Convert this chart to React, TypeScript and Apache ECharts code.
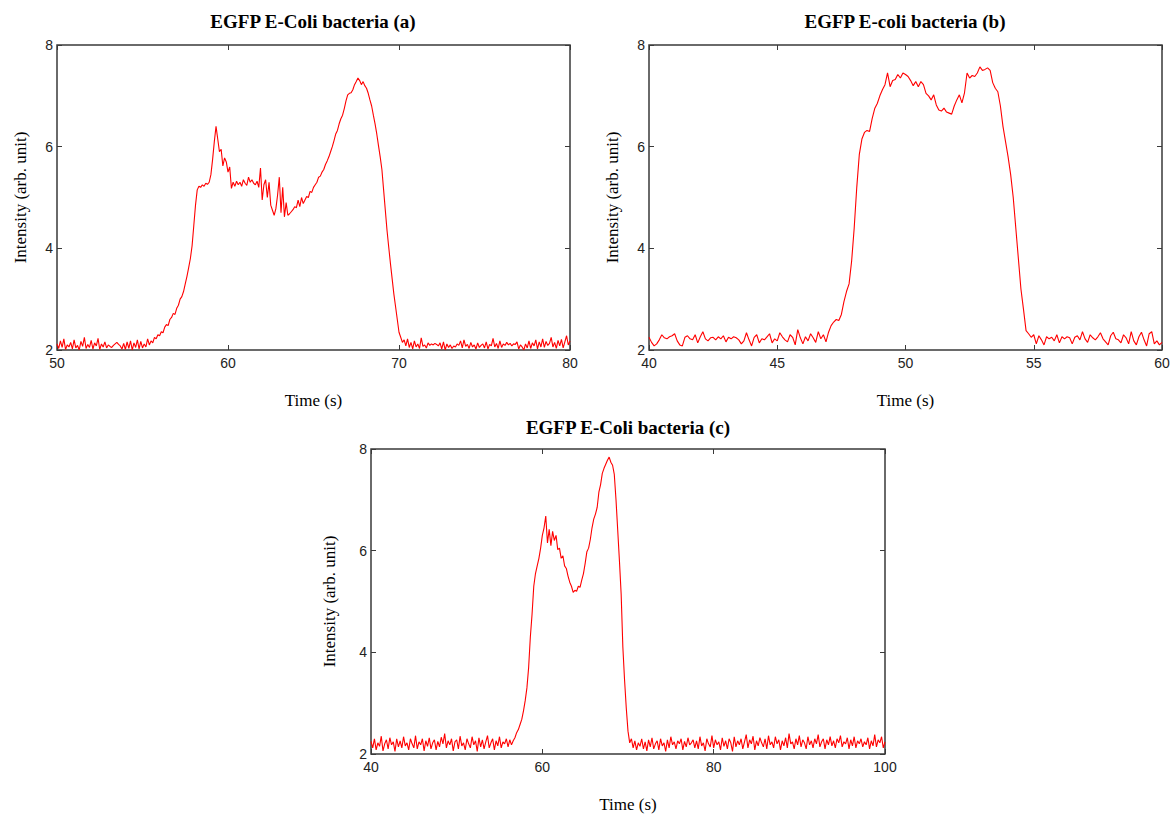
import React, { useEffect, useRef } from "react";
import * as echarts from "echarts";

// ---------- Chart (a): EGFP E-Coli bacteria (a), t = 50..80 s, step 0.1 s ----------
const titleA = "EGFP E-Coli bacteria (a)";
const startA = 50;
const stepA = 0.1;
const valuesA = [
  /* 50 */ 2.12, 2.03, 2.18, 2.05, 2.22, 2.01, 2.10, 2.06, 2.15, 2.02,
  /* 51 */ 2.20, 2.04, 2.09, 2.00, 2.17, 2.07, 2.25, 2.03, 2.11, 2.05,
  /* 52 */ 2.19, 2.02, 2.14, 2.08, 2.23, 2.01, 2.12, 2.06, 2.16, 2.04,
  /* 53 */ 2.10, 2.07, 2.05, 2.09, 2.12, 2.15, 2.11, 2.08, 2.02, 2.13,
  /* 54 */ 2.01, 2.16, 2.03, 2.18, 2.00, 2.14, 2.05, 2.20, 2.02, 2.17,
  /* 55 */ 2.04, 2.12, 2.06, 2.22, 2.10, 2.18, 2.14, 2.25, 2.22, 2.30,
  /* 56 */ 2.28, 2.36, 2.34, 2.45, 2.50, 2.48, 2.60, 2.64, 2.72, 2.70,
  /* 57 */ 2.82, 2.88, 3.00, 3.05, 3.15, 3.30, 3.45, 3.62, 3.80, 4.05,
  /* 58 */ 4.45, 4.85, 5.15, 5.22, 5.20, 5.25, 5.22, 5.28, 5.26, 5.30,
  /* 59 */ 5.45, 5.75, 6.10, 6.40, 6.15, 5.90, 5.95, 5.62, 5.78, 5.70,
  /* 60 */ 5.50, 5.60, 5.18, 5.30, 5.22, 5.32, 5.25, 5.30, 5.22, 5.35,
  /* 61 */ 5.28, 5.24, 5.40, 5.30, 5.35, 5.28, 5.25, 5.32, 5.20, 5.58,
  /* 62 */ 4.95, 5.25, 5.35, 5.00, 5.30, 4.85, 4.75, 4.65, 4.78, 5.05,
  /* 63 */ 5.40, 4.70, 5.20, 4.62, 4.90, 4.65, 4.68, 4.72, 4.76, 4.82,
  /* 64 */ 4.80, 4.95, 4.82, 5.00, 4.88, 4.95, 5.02, 5.00, 5.12, 5.10,
  /* 65 */ 5.20, 5.25, 5.30, 5.40, 5.42, 5.50, 5.55, 5.65, 5.72, 5.80,
  /* 66 */ 5.90, 6.00, 6.12, 6.25, 6.32, 6.45, 6.55, 6.62, 6.75, 6.90,
  /* 67 */ 7.02, 7.05, 7.06, 7.12, 7.22, 7.28, 7.35, 7.30, 7.22, 7.28,
  /* 68 */ 7.20, 7.15, 7.05, 6.92, 6.80, 6.62, 6.45, 6.25, 6.02, 5.80,
  /* 69 */ 5.55, 5.15, 4.75, 4.35, 4.02, 3.70, 3.40, 3.10, 2.85, 2.60,
  /* 70 */ 2.35, 2.25, 2.15, 2.20, 2.08, 2.22, 2.05, 2.15, 2.02, 2.18,
  /* 71 */ 2.06, 2.12, 2.03, 2.24, 2.07, 2.10, 2.04, 2.14, 2.09, 2.12,
  /* 72 */ 2.10, 2.13, 2.11, 2.08, 2.14, 2.02, 2.16, 2.00, 2.12, 2.05,
  /* 73 */ 2.10, 2.03, 2.08, 2.06, 2.12, 2.09, 2.18, 2.04, 2.20, 2.07,
  /* 74 */ 2.11, 2.03, 2.15, 2.06, 2.10, 2.02, 2.14, 2.05, 2.09, 2.12,
  /* 75 */ 2.04, 2.16, 2.02, 2.11, 2.08, 2.23, 2.06, 2.13, 2.03, 2.18,
  /* 76 */ 2.05, 2.12, 2.09, 2.15, 2.10, 2.13, 2.08, 2.12, 2.11, 2.16,
  /* 77 */ 2.02, 2.10, 2.06, 2.00, 2.12, 2.04, 2.18, 2.03, 2.14, 2.08,
  /* 78 */ 2.20, 2.02, 2.16, 2.06, 2.22, 2.05, 2.17, 2.09, 2.13, 2.25,
  /* 79 */ 2.06, 2.15, 2.03, 2.19, 2.08, 2.21, 2.04, 2.16, 2.28, 2.10,
  /* 80 */ 2.18,
];
const xRangeA = [50, 80, 10];

// ---------- Chart (b): EGFP E-coli bacteria (b), t = 40..60 s, step 0.1 s ----------
const titleB = "EGFP E-coli bacteria (b)";
const startB = 40;
const stepB = 0.1;
const valuesB = [
  /* 40 */ 2.25, 2.15, 2.08, 2.12, 2.20, 2.30, 2.24, 2.22, 2.26, 2.28,
  /* 41 */ 2.32, 2.18, 2.10, 2.08, 2.25, 2.28, 2.22, 2.20, 2.30, 2.14,
  /* 42 */ 2.26, 2.36, 2.22, 2.18, 2.24, 2.25, 2.20, 2.26, 2.22, 2.28,
  /* 43 */ 2.16, 2.25, 2.22, 2.26, 2.24, 2.20, 2.12, 2.18, 2.34, 2.20,
  /* 44 */ 2.08, 2.25, 2.30, 2.14, 2.22, 2.20, 2.26, 2.32, 2.14, 2.22,
  /* 45 */ 2.18, 2.34, 2.26, 2.20, 2.16, 2.30, 2.25, 2.10, 2.40, 2.24,
  /* 46 */ 2.12, 2.26, 2.18, 2.32, 2.24, 2.15, 2.36, 2.22, 2.30, 2.16,
  /* 47 */ 2.35, 2.48, 2.55, 2.60, 2.58, 2.70, 2.95, 3.15, 3.30, 3.75,
  /* 48 */ 4.40, 5.20, 5.85, 6.15, 6.28, 6.32, 6.30, 6.55, 6.75, 6.85,
  /* 49 */ 7.00, 7.12, 7.22, 7.45, 7.18, 7.30, 7.32, 7.42, 7.35, 7.45,
  /* 50 */ 7.42, 7.38, 7.30, 7.20, 7.28, 7.18, 7.28, 7.22, 7.05, 7.00,
  /* 51 */ 6.92, 7.02, 6.82, 6.72, 6.70, 6.76, 6.68, 6.66, 6.64, 6.80,
  /* 52 */ 6.92, 7.02, 6.86, 7.06, 7.45, 7.35, 7.40, 7.38, 7.45, 7.57,
  /* 53 */ 7.50, 7.52, 7.55, 7.50, 7.26, 7.15, 7.08, 6.80, 6.40, 6.10,
  /* 54 */ 5.80, 5.45, 5.00, 4.40, 3.80, 3.20, 2.80, 2.38, 2.32, 2.25,
  /* 55 */ 2.30, 2.12, 2.28, 2.20, 2.10, 2.26, 2.22, 2.25, 2.18, 2.30,
  /* 56 */ 2.14, 2.26, 2.22, 2.26, 2.24, 2.12, 2.25, 2.28, 2.20, 2.36,
  /* 57 */ 2.22, 2.15, 2.30, 2.24, 2.20, 2.26, 2.34, 2.22, 2.16, 2.10,
  /* 58 */ 2.28, 2.35, 2.22, 2.20, 2.14, 2.30, 2.24, 2.12, 2.36, 2.18,
  /* 59 */ 2.10, 2.26, 2.35, 2.20, 2.08, 2.32, 2.36, 2.12, 2.18, 2.10,
  /* 60 */ 2.15,
];
const xRangeB = [40, 60, 5];

// ---------- Chart (c): EGFP E-Coli bacteria (c), t = 40..100 s, step 0.2 s ----------
const titleC = "EGFP E-Coli bacteria (c)";
const startC = 40;
const stepC = 0.2;
const valuesC = [
  /* 40 */ 2.25, 2.12, 2.30, 2.08, 2.22, 2.15, 2.35, 2.06, 2.20, 2.28,
  /* 42 */ 2.10, 2.32, 2.18, 2.24, 2.05, 2.30, 2.14, 2.26, 2.12, 2.34,
  /* 44 */ 2.16, 2.22, 2.08, 2.30, 2.20, 2.12, 2.36, 2.10, 2.24, 2.18,
  /* 46 */ 2.30, 2.06, 2.26, 2.15, 2.32, 2.10, 2.22, 2.28, 2.08, 2.25,
  /* 48 */ 2.14, 2.33, 2.20, 2.40, 2.12, 2.26, 2.18, 2.30, 2.06, 2.24,
  /* 50 */ 2.28, 2.10, 2.35, 2.16, 2.22, 2.08, 2.30, 2.20, 2.12, 2.34,
  /* 52 */ 2.18, 2.26, 2.05, 2.32, 2.14, 2.28, 2.10, 2.24, 2.36, 2.12,
  /* 54 */ 2.22, 2.30, 2.08, 2.26, 2.16, 2.34, 2.12, 2.24, 2.20, 2.30,
  /* 56 */ 2.14, 2.28, 2.18, 2.26, 2.32, 2.42, 2.48, 2.58, 2.68, 2.85,
  /* 58 */ 3.05, 3.30, 3.70, 4.30, 4.75, 5.30, 5.55, 5.70, 5.85, 6.05,
  /* 60 */ 6.30, 6.45, 6.68, 6.15, 6.42, 6.10, 6.38, 6.20, 6.30, 6.02,
  /* 62 */ 6.05, 5.85, 5.90, 5.70, 5.65, 5.50, 5.38, 5.30, 5.18, 5.22,
  /* 64 */ 5.20, 5.30, 5.28, 5.42, 5.55, 5.75, 5.98, 6.05, 6.22, 6.45,
  /* 66 */ 6.62, 6.72, 6.85, 7.15, 7.30, 7.52, 7.62, 7.70, 7.78, 7.84,
  /* 68 */ 7.74, 7.68, 7.50, 7.00, 6.40, 5.80, 5.15, 4.10, 3.45, 2.90,
  /* 70 */ 2.45, 2.22, 2.30, 2.12, 2.26, 2.08, 2.22, 2.15, 2.30, 2.10,
  /* 72 */ 2.24, 2.06, 2.28, 2.14, 2.32, 2.10, 2.20, 2.26, 2.08, 2.30,
  /* 74 */ 2.16, 2.22, 2.05, 2.28, 2.12, 2.34, 2.18, 2.24, 2.10, 2.26,
  /* 76 */ 2.20, 2.30, 2.08, 2.25, 2.14, 2.32, 2.18, 2.22, 2.28, 2.12,
  /* 78 */ 2.26, 2.10, 2.34, 2.16, 2.22, 2.06, 2.30, 2.20, 2.14, 2.36,
  /* 80 */ 2.12, 2.28, 2.18, 2.24, 2.08, 2.32, 2.15, 2.26, 2.10, 2.30,
  /* 82 */ 2.22, 2.05, 2.34, 2.14, 2.26, 2.18, 2.30, 2.10, 2.24, 2.38,
  /* 84 */ 2.12, 2.28, 2.20, 2.35, 2.08, 2.26, 2.16, 2.32, 2.22, 2.14,
  /* 86 */ 2.30, 2.10, 2.36, 2.18, 2.24, 2.12, 2.34, 2.20, 2.28, 2.08,
  /* 88 */ 2.26, 2.16, 2.32, 2.12, 2.40, 2.20, 2.24, 2.10, 2.30, 2.18,
  /* 90 */ 2.36, 2.14, 2.28, 2.22, 2.10, 2.34, 2.18, 2.26, 2.12, 2.30,
  /* 92 */ 2.20, 2.38, 2.14, 2.24, 2.30, 2.10, 2.28, 2.18, 2.34, 2.16,
  /* 94 */ 2.26, 2.12, 2.30, 2.22, 2.36, 2.14, 2.24, 2.20, 2.32, 2.10,
  /* 96 */ 2.28, 2.16, 2.34, 2.12, 2.26, 2.20, 2.30, 2.14, 2.24, 2.18,
  /* 98 */ 2.32, 2.10, 2.26, 2.16, 2.38, 2.14, 2.28, 2.22, 2.34, 2.12,
  /* 100 */ 2.24,
];
const xRangeC = [40, 100, 20];

const yRange = [2, 8, 2];
const xName = "Time (s)";
const yName = "Intensity (arb. unit)";

function toPairs(start: number, step: number, vals: number[]) {
  return vals.map((v, i) => [Math.round((start + i * step) * 100) / 100, v]);
}

const SERIF = "'Liberation Serif', 'Times New Roman', serif";
const SANS = "'Liberation Sans Narrow', 'Liberation Sans', Arial, sans-serif";
const FRAME = "#3a3a3a";

function buildAxes(
  g: number,
  xr: number[],
  yGap: number
) {
  const tick = { show: true, inside: true, length: 5, lineStyle: { color: FRAME, width: 1 } };
  const xs = [
    {
      gridIndex: g, type: "value", min: xr[0], max: xr[1], interval: xr[2], position: "bottom",
      axisLine: { show: false }, axisTick: tick, splitLine: { show: false },
      axisLabel: { show: true, margin: 6, color: "#222", fontFamily: SANS, fontSize: 14 },
      name: xName, nameLocation: "middle", nameGap: 42,
      nameTextStyle: { fontFamily: SERIF, fontSize: 17, color: "#000" },
    },
    {
      gridIndex: g, type: "value", min: xr[0], max: xr[1], interval: xr[2], position: "top",
      axisLine: { show: false }, axisTick: tick, splitLine: { show: false }, axisLabel: { show: false },
    },
  ];
  const ys = [
    {
      gridIndex: g, type: "value", min: yRange[0], max: yRange[1], interval: yRange[2], position: "left",
      axisLine: { show: false }, axisTick: tick, splitLine: { show: false },
      axisLabel: { show: true, margin: 4, color: "#222", fontFamily: SANS, fontSize: 14 },
      name: yName, nameLocation: "middle", nameGap: yGap, nameRotate: 90,
      nameTextStyle: { fontFamily: SERIF, fontSize: 17, color: "#000" },
    },
    {
      gridIndex: g, type: "value", min: yRange[0], max: yRange[1], interval: yRange[2], position: "right",
      axisLine: { show: false }, axisTick: tick, splitLine: { show: false }, axisLabel: { show: false },
    },
  ];
  return { xs, ys };
}

export default function App() {
  const ref = useRef<HTMLDivElement>(null);
  useEffect(() => {
    if (!ref.current) return;
    const chart = echarts.init(ref.current, undefined, { renderer: "svg" });
    const grids = [
      { left: 57, top: 45, width: 513, height: 305 },
      { left: 649, top: 45, width: 513, height: 305 },
      { left: 371, top: 449, width: 514, height: 305 },
    ].map((g) => ({ ...g, show: true, borderColor: FRAME, borderWidth: 1.5, backgroundColor: "transparent" }));
    const a = buildAxes(0, xRangeA, 28);
    const b = buildAxes(1, xRangeB, 28);
    const c = buildAxes(2, xRangeC, 33);
    const titles = [
      { text: titleA, cx: 313, cy: 21 },
      { text: titleB, cx: 905, cy: 21 },
      { text: titleC, cx: 628, cy: 427 },
    ];
    const lineSeries = (data: number[][], idx: number) => ({
      type: "line",
      xAxisIndex: idx * 2,
      yAxisIndex: idx * 2,
      data,
      showSymbol: false,
      symbol: "none",
      lineStyle: { color: "#ff0000", width: 1.1 },
      itemStyle: { color: "#ff0000" },
    });
    chart.setOption({
      animation: false,
      backgroundColor: "#ffffff",
      grid: grids,
      xAxis: [...a.xs, ...b.xs, ...c.xs],
      yAxis: [...a.ys, ...b.ys, ...c.ys],
      graphic: titles.map((t) => ({
        type: "text",
        x: t.cx,
        y: t.cy,
        style: {
          text: t.text,
          font: `bold 19px ${SERIF}`,
          fill: "#000",
          align: "center",
          verticalAlign: "middle",
          textAlign: "center",
          textVerticalAlign: "middle",
        },
      })),
      series: [
        lineSeries(toPairs(startA, stepA, valuesA), 0),
        lineSeries(toPairs(startB, stepB, valuesB), 1),
        lineSeries(toPairs(startC, stepC, valuesC), 2),
      ],
    });
    return () => chart.dispose();
  }, []);
  return (
    <div
      ref={ref}
      style={{ position: "absolute", left: 0, top: 0, width: 1173, height: 816 }}
    />
  );
}
